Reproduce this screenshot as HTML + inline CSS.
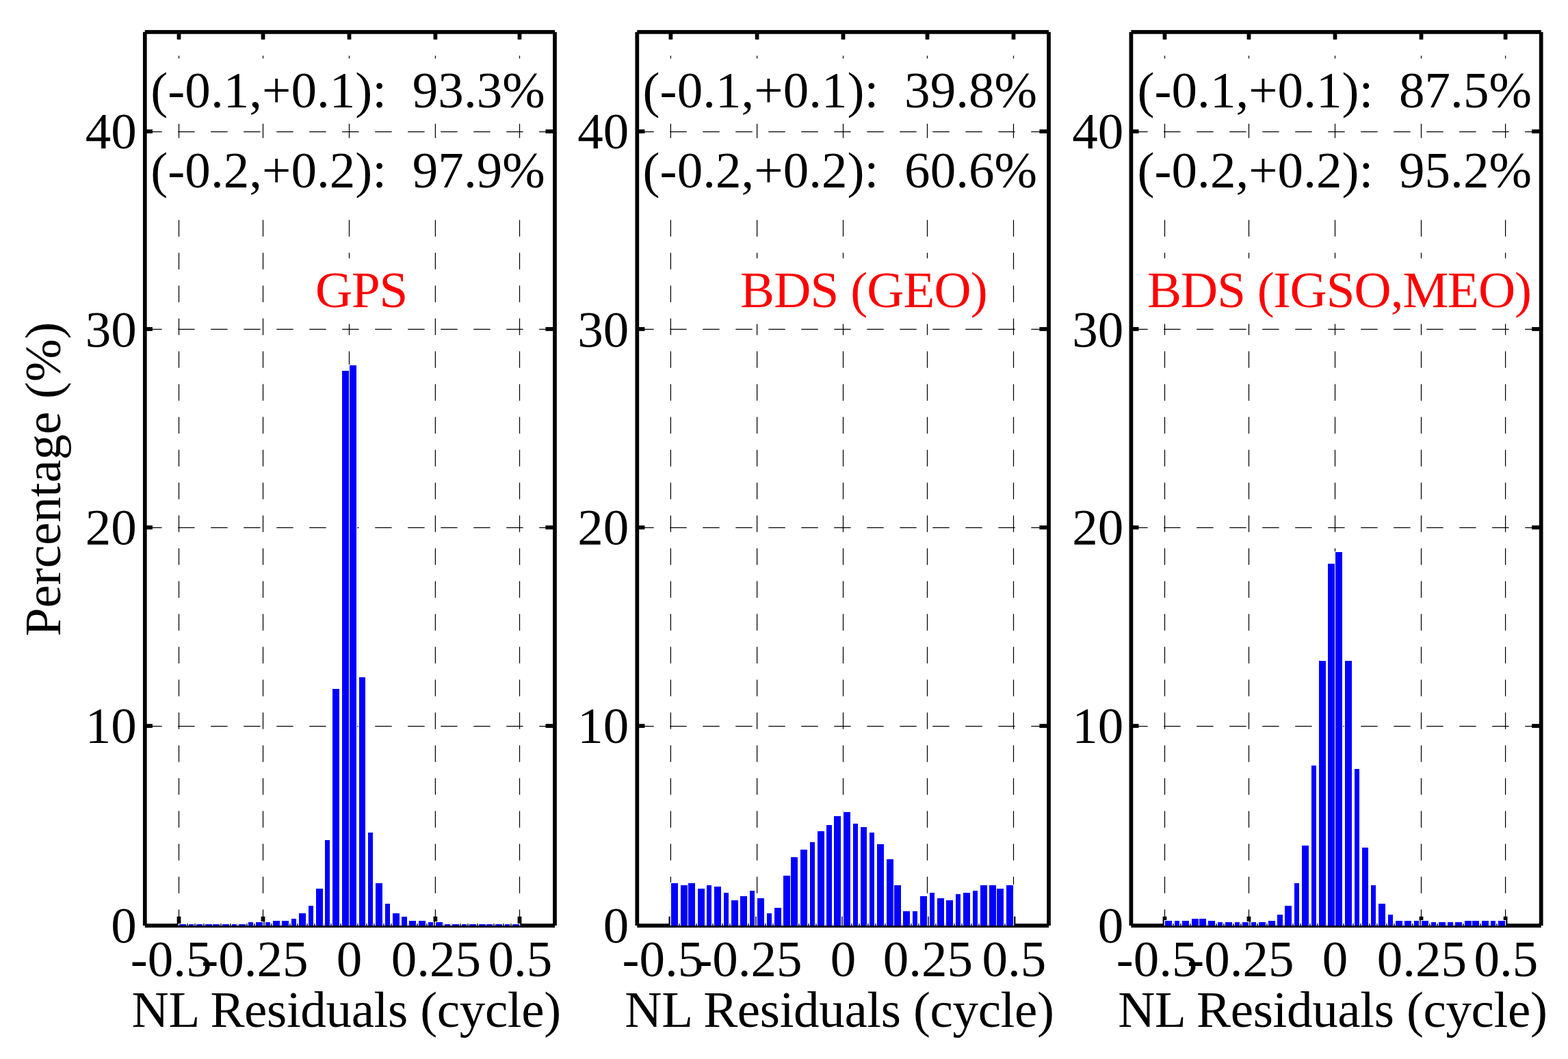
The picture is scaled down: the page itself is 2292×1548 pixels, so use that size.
<!DOCTYPE html>
<html lang="en"><head><meta charset="utf-8"><title>NL Residuals histogram</title>
<style>
html,body{margin:0;padding:0;background:#fff;}
main,figure{display:block;margin:0;padding:0;width:2292px;height:1548px;}
body{width:2292px;height:1548px;overflow:hidden;}
svg{display:block;}
text{font-family:"Liberation Serif",serif;font-size:75px;fill:#000;white-space:pre;}
.r{fill:#f00;}
.g{stroke:#000;stroke-width:1.25;stroke-dasharray:24.4 23.6;fill:none;}
.b{fill:#00f;}
.w{fill:#fff;}
.k{fill:#000;}
</style></head><body>
<main><figure>
<svg width="2292" height="1548" viewBox="0 0 2292 1548" role="img" aria-label="Histograms of NL residuals for GPS, BDS (GEO) and BDS (IGSO,MEO)">
<rect class="w" x="0" y="0" width="2292" height="1548"/>
<g id="panel1">
<g class="grid">
<path class="g" d="M261.5 1353.8V46.8"/>
<path class="g" d="M384.5 1353.8V46.8"/>
<path class="g" d="M510.5 1353.8V46.8"/>
<path class="g" d="M636.4 1353.8V46.8"/>
<path class="g" d="M759.5 1353.8V46.8"/>
<path class="g" d="M212.2 192.5H811"/>
<path class="g" d="M212.2 481.4H811"/>
<path class="g" d="M212.2 771.4H811"/>
<path class="g" d="M212.2 1061.5H811"/>
</g>
<rect class="w" x="214.6" y="85.5" width="587.2" height="95.4"/>
<rect class="w" x="214.6" y="202.2" width="587.2" height="96.4"/>
<rect class="w" x="459" y="377.6" width="141" height="96"/>
<g class="axes">
<rect class="k" x="211.8" y="43.92" width="599.2" height="5.75"/>
<rect class="k" x="211.8" y="1350.12" width="599.2" height="5.75"/>
<rect class="k" x="208.93" y="46.8" width="5.75" height="1306.2"/>
<rect class="k" x="808.12" y="46.8" width="5.75" height="1306.2"/>
<rect class="k" x="258.62" y="1339.7" width="5.75" height="13.3"/>
<rect class="k" x="258.62" y="46.8" width="5.75" height="10.9"/>
<rect class="k" x="381.62" y="1339.7" width="5.75" height="13.3"/>
<rect class="k" x="381.62" y="46.8" width="5.75" height="10.9"/>
<rect class="k" x="507.62" y="1339.7" width="5.75" height="13.3"/>
<rect class="k" x="507.62" y="46.8" width="5.75" height="10.9"/>
<rect class="k" x="633.52" y="1339.7" width="5.75" height="13.3"/>
<rect class="k" x="633.52" y="46.8" width="5.75" height="10.9"/>
<rect class="k" x="756.62" y="1339.7" width="5.75" height="13.3"/>
<rect class="k" x="756.62" y="46.8" width="5.75" height="10.9"/>
<rect class="k" x="211.8" y="189.22" width="11.1" height="5.75"/>
<rect class="k" x="797.4" y="189.22" width="13.6" height="5.75"/>
<rect class="k" x="211.8" y="478.12" width="11.1" height="5.75"/>
<rect class="k" x="797.4" y="478.12" width="13.6" height="5.75"/>
<rect class="k" x="211.8" y="768.12" width="11.1" height="5.75"/>
<rect class="k" x="797.4" y="768.12" width="13.6" height="5.75"/>
<rect class="k" x="211.8" y="1058.22" width="11.1" height="5.75"/>
<rect class="k" x="797.4" y="1058.22" width="13.6" height="5.75"/>
</g>
<g class="bars">
<path class="w" d="M260.7 1350H273.2V1353H260.7ZM274.7 1350H284.2V1353H274.7ZM285.7 1350H297.2V1353H285.7ZM298.7 1350H311.2V1353H298.7ZM309.7 1350H322.2V1353H309.7ZM323.7 1350H336.2V1353H323.7ZM337.7 1350H347.2V1353H337.7ZM347.7 1350H360.2V1353H347.7ZM361.7 1347H371.2V1353H361.7ZM372.7 1347H385.2V1353H372.7ZM386.7 1347H396.2V1353H386.7ZM397.7 1345H410.2V1353H397.7ZM410.7 1345H423.2V1353H410.7ZM424.7 1342H434.2V1353H424.7ZM435.7 1334H448.2V1353H435.7ZM449.7 1323H459.2V1353H449.7ZM460.7 1298H473.2V1353H460.7ZM473.7 1227H483.2V1353H473.7ZM484.7 1006H497.2V1353H484.7ZM498.7 541H511.2V1353H498.7ZM509.7 533H522.2V1353H509.7ZM523.7 989H535.2V1353H523.7ZM536.7 1216H546.2V1353H536.7ZM547.7 1290H560.2V1353H547.7ZM561.7 1320H571.2V1353H561.7ZM572.7 1334H585.2V1353H572.7ZM585.7 1339H596.2V1353H585.7ZM596.7 1345H609.2V1353H596.7ZM610.7 1345H623.2V1353H610.7ZM624.7 1347H634.2V1353H624.7ZM635.7 1347H648.2V1353H635.7ZM648.7 1350H659.2V1353H648.7ZM659.7 1350H672.2V1353H659.7ZM673.7 1350H683.2V1353H673.7ZM684.7 1350H697.2V1353H684.7ZM698.7 1350H711.2V1353H698.7ZM709.7 1350H721.2V1353H709.7ZM722.7 1350H735.2V1353H722.7ZM736.7 1350H746.2V1353H736.7ZM747.7 1350H760.2V1353H747.7Z"/>
<path class="b" d="M262 1351H272V1353H262ZM276 1351H283V1353H276ZM287 1351H296V1353H287ZM300 1351H310V1353H300ZM311 1351H321V1353H311ZM325 1351H335V1353H325ZM339 1351H346V1353H339ZM349 1351H359V1353H349ZM363 1348H370V1353H363ZM374 1348H384V1353H374ZM388 1348H395V1353H388ZM399 1346H409V1353H399ZM412 1346H422V1353H412ZM426 1343H433V1353H426ZM437 1335H447V1353H437ZM451 1324H458V1353H451ZM462 1299H472V1353H462ZM475 1228H482V1353H475ZM486 1007H496V1353H486ZM500 542H510V1353H500ZM511 534H521V1353H511ZM525 990H534V1353H525ZM538 1217H545V1353H538ZM549 1291H559V1353H549ZM563 1321H570V1353H563ZM574 1335H584V1353H574ZM587 1340H595V1353H587ZM598 1346H608V1353H598ZM612 1346H622V1353H612ZM626 1348H633V1353H626ZM637 1348H647V1353H637ZM650 1351H658V1353H650ZM661 1351H671V1353H661ZM675 1351H682V1353H675ZM686 1351H696V1353H686ZM700 1351H710V1353H700ZM711 1351H720V1353H711ZM724 1351H734V1353H724ZM738 1351H745V1353H738ZM749 1351H759V1353H749Z"/>
</g>
</g>
<g id="panel2">
<g class="grid">
<path class="g" d="M980.4 1353.8V46.8"/>
<path class="g" d="M1106.6 1353.8V46.8"/>
<path class="g" d="M1232.5 1353.8V46.8"/>
<path class="g" d="M1355.5 1353.8V46.8"/>
<path class="g" d="M1481.5 1353.8V46.8"/>
<path class="g" d="M931.3 192.5H1533"/>
<path class="g" d="M931.3 481.4H1533"/>
<path class="g" d="M931.3 771.4H1533"/>
<path class="g" d="M931.3 1061.5H1533"/>
</g>
<rect class="w" x="934.1" y="85.5" width="587.2" height="95.4"/>
<rect class="w" x="934.1" y="202.2" width="587.2" height="96.4"/>
<rect class="w" x="1080" y="377.6" width="365" height="96"/>
<g class="axes">
<rect class="k" x="931.3" y="43.92" width="601.7" height="5.75"/>
<rect class="k" x="931.3" y="1350.12" width="601.7" height="5.75"/>
<rect class="k" x="928.42" y="46.8" width="5.75" height="1306.2"/>
<rect class="k" x="1530.12" y="46.8" width="5.75" height="1306.2"/>
<rect class="k" x="977.52" y="1339.7" width="5.75" height="13.3"/>
<rect class="k" x="977.52" y="46.8" width="5.75" height="10.9"/>
<rect class="k" x="1103.72" y="1339.7" width="5.75" height="13.3"/>
<rect class="k" x="1103.72" y="46.8" width="5.75" height="10.9"/>
<rect class="k" x="1229.62" y="1339.7" width="5.75" height="13.3"/>
<rect class="k" x="1229.62" y="46.8" width="5.75" height="10.9"/>
<rect class="k" x="1352.62" y="1339.7" width="5.75" height="13.3"/>
<rect class="k" x="1352.62" y="46.8" width="5.75" height="10.9"/>
<rect class="k" x="1478.62" y="1339.7" width="5.75" height="13.3"/>
<rect class="k" x="1478.62" y="46.8" width="5.75" height="10.9"/>
<rect class="k" x="931.3" y="189.22" width="11.1" height="5.75"/>
<rect class="k" x="1519.4" y="189.22" width="13.6" height="5.75"/>
<rect class="k" x="931.3" y="478.12" width="11.1" height="5.75"/>
<rect class="k" x="1519.4" y="478.12" width="13.6" height="5.75"/>
<rect class="k" x="931.3" y="768.12" width="11.1" height="5.75"/>
<rect class="k" x="1519.4" y="768.12" width="13.6" height="5.75"/>
<rect class="k" x="931.3" y="1058.22" width="11.1" height="5.75"/>
<rect class="k" x="1519.4" y="1058.22" width="13.6" height="5.75"/>
</g>
<g class="bars">
<path class="w" d="M979.7 1290H992.2V1353H979.7ZM993.7 1293H1006.2V1353H993.7ZM1004.7 1290H1017.2V1353H1004.7ZM1018.7 1298H1031.2V1353H1018.7ZM1031.7 1293H1041.2V1353H1031.7ZM1042.7 1295H1055.2V1353H1042.7ZM1056.7 1304H1066.2V1353H1056.7ZM1067.7 1315H1080.2V1353H1067.7ZM1080.7 1309H1093.2V1353H1080.7ZM1094.7 1301H1104.2V1353H1094.7ZM1105.7 1312H1118.2V1353H1105.7ZM1119.7 1334H1129.2V1353H1119.7ZM1130.7 1326H1143.2V1353H1130.7ZM1143.7 1279H1156.2V1353H1143.7ZM1154.7 1252H1167.2V1353H1154.7ZM1168.7 1241H1181.2V1353H1168.7ZM1182.7 1230H1192.2V1353H1182.7ZM1193.7 1214H1206.2V1353H1193.7ZM1206.7 1205H1217.2V1353H1206.7ZM1217.7 1192H1230.2V1353H1217.7ZM1231.7 1186H1244.2V1353H1231.7ZM1245.7 1203H1255.2V1353H1245.7ZM1256.7 1208H1268.2V1353H1256.7ZM1269.7 1216H1279.2V1353H1269.7ZM1280.7 1233H1293.2V1353H1280.7ZM1294.7 1255H1307.2V1353H1294.7ZM1305.7 1293H1318.2V1353H1305.7ZM1318.7 1331H1331.2V1353H1318.7ZM1332.7 1331H1342.2V1353H1332.7ZM1343.7 1309H1356.2V1353H1343.7ZM1357.7 1304H1367.2V1353H1357.7ZM1368.7 1312H1381.2V1353H1368.7ZM1381.7 1315H1394.2V1353H1381.7ZM1395.7 1306H1405.2V1353H1395.7ZM1406.7 1304H1419.2V1353H1406.7ZM1420.7 1301H1430.2V1353H1420.7ZM1431.7 1293H1444.2V1353H1431.7ZM1444.7 1293H1457.2V1353H1444.7ZM1455.7 1298H1468.2V1353H1455.7ZM1469.7 1293H1482.2V1353H1469.7Z"/>
<path class="b" d="M981 1291H991V1353H981ZM995 1294H1005V1353H995ZM1006 1291H1016V1353H1006ZM1020 1299H1030V1353H1020ZM1033 1294H1040V1353H1033ZM1044 1296H1054V1353H1044ZM1058 1305H1065V1353H1058ZM1069 1316H1079V1353H1069ZM1082 1310H1092V1353H1082ZM1096 1302H1103V1353H1096ZM1107 1313H1117V1353H1107ZM1121 1335H1128V1353H1121ZM1132 1327H1142V1353H1132ZM1145 1280H1155V1353H1145ZM1156 1253H1166V1353H1156ZM1170 1242H1180V1353H1170ZM1184 1231H1191V1353H1184ZM1195 1215H1205V1353H1195ZM1208 1206H1216V1353H1208ZM1219 1193H1229V1353H1219ZM1233 1187H1243V1353H1233ZM1247 1204H1254V1353H1247ZM1258 1209H1267V1353H1258ZM1271 1217H1278V1353H1271ZM1282 1234H1292V1353H1282ZM1296 1256H1306V1353H1296ZM1307 1294H1317V1353H1307ZM1320 1332H1330V1353H1320ZM1334 1332H1341V1353H1334ZM1345 1310H1355V1353H1345ZM1359 1305H1366V1353H1359ZM1370 1313H1380V1353H1370ZM1383 1316H1393V1353H1383ZM1397 1307H1404V1353H1397ZM1408 1305H1418V1353H1408ZM1422 1302H1429V1353H1422ZM1433 1294H1443V1353H1433ZM1446 1294H1456V1353H1446ZM1457 1299H1467V1353H1457ZM1471 1294H1481V1353H1471Z"/>
</g>
</g>
<g id="panel3">
<g class="grid">
<path class="g" d="M1702.5 1353.8V46.8"/>
<path class="g" d="M1825.5 1353.8V46.8"/>
<path class="g" d="M1951.5 1353.8V46.8"/>
<path class="g" d="M2077.5 1353.8V46.8"/>
<path class="g" d="M2200.6 1353.8V46.8"/>
<path class="g" d="M1653.2 192.5H2252.7"/>
<path class="g" d="M1653.2 481.4H2252.7"/>
<path class="g" d="M1653.2 771.4H2252.7"/>
<path class="g" d="M1653.2 1061.5H2252.7"/>
</g>
<rect class="w" x="1656.2" y="85.5" width="587.2" height="95.4"/>
<rect class="w" x="1656.2" y="202.2" width="587.2" height="96.4"/>
<rect class="w" x="1676" y="377.6" width="564" height="96"/>
<g class="axes">
<rect class="k" x="1653.4" y="43.92" width="599.3" height="5.75"/>
<rect class="k" x="1653.4" y="1350.12" width="599.3" height="5.75"/>
<rect class="k" x="1650.53" y="46.8" width="5.75" height="1306.2"/>
<rect class="k" x="2249.82" y="46.8" width="5.75" height="1306.2"/>
<rect class="k" x="1699.62" y="1339.7" width="5.75" height="13.3"/>
<rect class="k" x="1699.62" y="46.8" width="5.75" height="10.9"/>
<rect class="k" x="1822.62" y="1339.7" width="5.75" height="13.3"/>
<rect class="k" x="1822.62" y="46.8" width="5.75" height="10.9"/>
<rect class="k" x="1948.62" y="1339.7" width="5.75" height="13.3"/>
<rect class="k" x="1948.62" y="46.8" width="5.75" height="10.9"/>
<rect class="k" x="2074.62" y="1339.7" width="5.75" height="13.3"/>
<rect class="k" x="2074.62" y="46.8" width="5.75" height="10.9"/>
<rect class="k" x="2197.72" y="1339.7" width="5.75" height="13.3"/>
<rect class="k" x="2197.72" y="46.8" width="5.75" height="10.9"/>
<rect class="k" x="1653.4" y="189.22" width="11.1" height="5.75"/>
<rect class="k" x="2239.1" y="189.22" width="13.6" height="5.75"/>
<rect class="k" x="1653.4" y="478.12" width="11.1" height="5.75"/>
<rect class="k" x="2239.1" y="478.12" width="13.6" height="5.75"/>
<rect class="k" x="1653.4" y="768.12" width="11.1" height="5.75"/>
<rect class="k" x="2239.1" y="768.12" width="13.6" height="5.75"/>
<rect class="k" x="1653.4" y="1058.22" width="11.1" height="5.75"/>
<rect class="k" x="2239.1" y="1058.22" width="13.6" height="5.75"/>
</g>
<g class="bars">
<path class="w" d="M1701.7 1345H1714.2V1353H1701.7ZM1715.7 1345H1725.2V1353H1715.7ZM1726.7 1345H1739.2V1353H1726.7ZM1740.7 1342H1753.2V1353H1740.7ZM1751.7 1342H1764.2V1353H1751.7ZM1764.7 1345H1777.2V1353H1764.7ZM1778.7 1347H1788.2V1353H1778.7ZM1789.7 1347H1802.2V1353H1789.7ZM1803.7 1347H1813.2V1353H1803.7ZM1814.7 1347H1826.2V1353H1814.7ZM1827.7 1347H1837.2V1353H1827.7ZM1838.7 1347H1851.2V1353H1838.7ZM1852.7 1345H1865.2V1353H1852.7ZM1865.7 1336H1876.2V1353H1865.7ZM1876.7 1323H1889.2V1353H1876.7ZM1890.7 1290H1900.2V1353H1890.7ZM1901.7 1235H1914.2V1353H1901.7ZM1915.7 1118H1925.2V1353H1915.7ZM1926.7 965H1939.2V1353H1926.7ZM1939.7 823H1952.2V1353H1939.7ZM1950.7 806H1963.2V1353H1950.7ZM1964.7 965H1977.2V1353H1964.7ZM1978.7 1123H1988.2V1353H1978.7ZM1989.7 1238H2001.2V1353H1989.7ZM2002.7 1293H2012.2V1353H2002.7ZM2013.7 1320H2026.2V1353H2013.7ZM2027.7 1336H2037.2V1353H2027.7ZM2038.7 1345H2051.2V1353H2038.7ZM2051.7 1345H2064.2V1353H2051.7ZM2065.7 1345H2075.2V1353H2065.7ZM2076.7 1345H2089.2V1353H2076.7ZM2090.7 1347H2100.2V1353H2090.7ZM2101.7 1347H2114.2V1353H2101.7ZM2114.7 1347H2125.2V1353H2114.7ZM2125.7 1347H2138.2V1353H2125.7ZM2139.7 1345H2152.2V1353H2139.7ZM2150.7 1345H2163.2V1353H2150.7ZM2164.7 1345H2177.2V1353H2164.7ZM2177.7 1345H2187.2V1353H2177.7ZM2188.7 1345H2201.2V1353H2188.7Z"/>
<path class="b" d="M1703 1346H1713V1353H1703ZM1717 1346H1724V1353H1717ZM1728 1346H1738V1353H1728ZM1742 1343H1752V1353H1742ZM1753 1343H1763V1353H1753ZM1766 1346H1776V1353H1766ZM1780 1348H1787V1353H1780ZM1791 1348H1801V1353H1791ZM1805 1348H1812V1353H1805ZM1816 1348H1825V1353H1816ZM1829 1348H1836V1353H1829ZM1840 1348H1850V1353H1840ZM1854 1346H1864V1353H1854ZM1867 1337H1875V1353H1867ZM1878 1324H1888V1353H1878ZM1892 1291H1899V1353H1892ZM1903 1236H1913V1353H1903ZM1917 1119H1924V1353H1917ZM1928 966H1938V1353H1928ZM1941 824H1951V1353H1941ZM1952 807H1962V1353H1952ZM1966 966H1976V1353H1966ZM1980 1124H1987V1353H1980ZM1991 1239H2000V1353H1991ZM2004 1294H2011V1353H2004ZM2015 1321H2025V1353H2015ZM2029 1337H2036V1353H2029ZM2040 1346H2050V1353H2040ZM2053 1346H2063V1353H2053ZM2067 1346H2074V1353H2067ZM2078 1346H2088V1353H2078ZM2092 1348H2099V1353H2092ZM2103 1348H2113V1353H2103ZM2116 1348H2124V1353H2116ZM2127 1348H2137V1353H2127ZM2141 1346H2151V1353H2141ZM2152 1346H2162V1353H2152ZM2166 1346H2176V1353H2166ZM2179 1346H2186V1353H2179ZM2190 1346H2200V1353H2190Z"/>
</g>
</g>
<g id="labels">
<text x="220.3" y="157.3" style="letter-spacing:0.05px">(-0.1,+0.1):  93.3%</text>
<text x="220.3" y="274" style="letter-spacing:0.05px">(-0.2,+0.2):  97.9%</text>
<text x="939.6" y="157.3" style="letter-spacing:0.05px">(-0.1,+0.1):  39.8%</text>
<text x="939.6" y="274" style="letter-spacing:0.05px">(-0.2,+0.2):  60.6%</text>
<text x="1662.5" y="157.3" style="letter-spacing:0.05px">(-0.1,+0.1):  87.5%</text>
<text x="1662.5" y="274" style="letter-spacing:0.05px">(-0.2,+0.2):  95.2%</text>
<text x="460.9" y="448.9" class="r" style="letter-spacing:-1.1px">GPS</text>
<text x="1082.1" y="448.8" class="r" style="letter-spacing:-0.9px">BDS (GEO)</text>
<text x="1677" y="448.8" class="r" style="letter-spacing:-1px">BDS (IGSO,MEO)</text>
<text x="124.8" y="216.9">40</text>
<text x="124.8" y="506.7">30</text>
<text x="124.8" y="795.8">20</text>
<text x="124.8" y="1086">10</text>
<text x="162.3" y="1378">0</text>
<text x="844.3" y="216.9">40</text>
<text x="844.3" y="506.7">30</text>
<text x="844.3" y="795.8">20</text>
<text x="844.3" y="1086">10</text>
<text x="881.8" y="1378">0</text>
<text x="1567.3" y="216.9">40</text>
<text x="1567.3" y="506.7">30</text>
<text x="1567.3" y="795.8">20</text>
<text x="1567.3" y="1086">10</text>
<text x="1604.8" y="1378">0</text>
<text x="190.7" y="1427">-0.5</text>
<text x="294.3" y="1427">-0.25</text>
<text x="491.75" y="1427">0</text>
<text x="571.7" y="1427">0.25</text>
<text x="713.5" y="1427">0.5</text>
<text x="192.6" y="1501.2" style="letter-spacing:-0.36px">NL Residuals (cycle)</text>
<text x="909.6" y="1427">-0.5</text>
<text x="1016.4" y="1427">-0.25</text>
<text x="1213.75" y="1427">0</text>
<text x="1290.8" y="1427">0.25</text>
<text x="1435.5" y="1427">0.5</text>
<text x="913.35" y="1501.2" style="letter-spacing:-0.36px">NL Residuals (cycle)</text>
<text x="1631.7" y="1427">-0.5</text>
<text x="1735.3" y="1427">-0.25</text>
<text x="1932.75" y="1427">0</text>
<text x="2012.8" y="1427">0.25</text>
<text x="2154.6" y="1427">0.5</text>
<text x="1634.25" y="1501.2" style="letter-spacing:-0.36px">NL Residuals (cycle)</text>
<text x="0" y="0" transform="translate(88 930.15) rotate(-90)" style="letter-spacing:-0.05px">Percentage (%)</text>
</g>
</svg>
</figure></main>
</body></html>
